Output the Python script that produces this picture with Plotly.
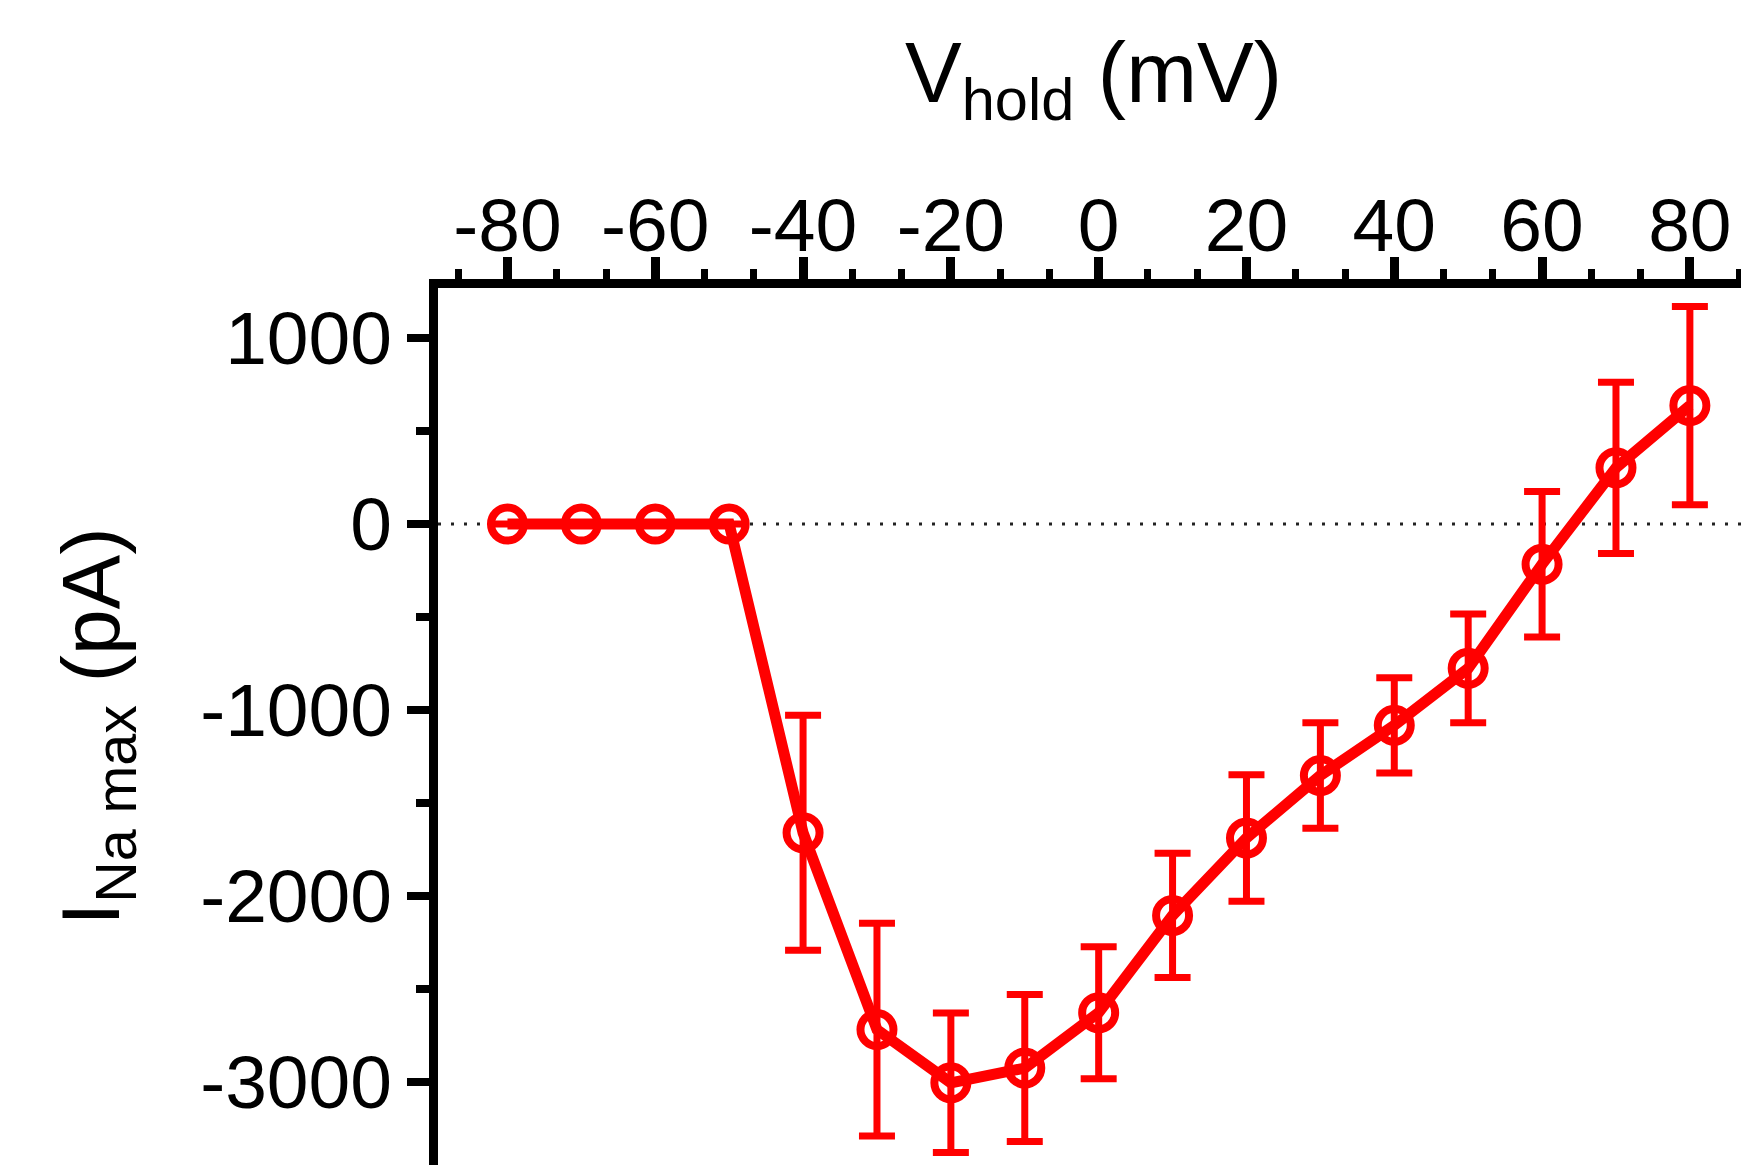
import plotly.graph_objects as go

# ---- data ----
v_hold = [-80, -70, -60, -50, -40, -30, -20, -10, 0, 10, 20, 30, 40, 50, 60, 70, 80]
i_na_max = [0, 0, 0, 0, -1660, -2718, -3004, -2925, -2627, -2104, -1688, -1352, -1082, -776, -216, 302, 637]
i_na_sem = [0, 0, 0, 0, 632, 572, 375, 395, 355, 334, 340, 284, 256, 293, 391, 460, 533]

x_tick_vals = [-80, -60, -40, -20, 0, 20, 40, 60, 80]
x_tick_text = ["-80", "-60", "-40", "-20", "0", "20", "40", "60", "80"]
y_tick_vals = [1000, 0, -1000, -2000, -3000]
y_tick_text = ["1000", "0", "-1000", "-2000", "-3000"]

RED = "#FF0000"
FONT = "Liberation Sans, Arial, sans-serif"

fig = go.Figure()

fig.add_trace(go.Scatter(
    x=v_hold, y=i_na_max,
    mode="lines+markers",
    line=dict(color=RED, width=11),
    marker=dict(symbol="circle-open", size=33, color=RED, line=dict(width=8, color=RED)),
    error_y=dict(type="data", array=i_na_sem, visible=True, color=RED, thickness=7, width=18),
    showlegend=False,
    hoverinfo="skip",
))

# dotted zero reference line
fig.add_shape(type="line", xref="paper", yref="y", x0=0, x1=1, y0=0, y1=0,
              line=dict(color="#222222", width=3, dash="3px,10px"), layer="below")

fig.update_layout(
    width=1749, height=1165,
    margin=dict(l=430, r=8, t=280, b=8, pad=0),
    paper_bgcolor="white", plot_bgcolor="white",
    font=dict(family=FONT, color="black", size=75),
)

fig.update_xaxes(
    side="top",
    range=[-89.4, 88.0],
    showgrid=False, zeroline=False,
    showline=True, linewidth=9, linecolor="black",
    ticks="outside", ticklen=22, tickwidth=9, tickcolor="black",
    tickvals=x_tick_vals, ticktext=x_tick_text,
    tickfont=dict(size=75, family=FONT),
    ticklabelstandoff=-24,
    minor=dict(ticks="outside", dtick=20 / 3, tick0=-80, ticklen=10, tickwidth=7,
               tickcolor="black", showgrid=False),
    title=dict(text="V<sub>hold</sub> (mV)", font=dict(size=85, family=FONT), standoff=56),
)

fig.update_yaxes(
    range=[-3446, 1269],
    showgrid=False, zeroline=False,
    showline=True, linewidth=9, linecolor="black",
    ticks="outside", ticklen=22, tickwidth=8, tickcolor="black",
    tickvals=y_tick_vals, ticktext=y_tick_text,
    tickfont=dict(size=75, family=FONT),
    minor=dict(ticks="outside", dtick=500, tick0=0, ticklen=13, tickwidth=8,
               tickcolor="black", showgrid=False),
    title=dict(text="I<sub>Na max</sub> (pA)", font=dict(size=82, family=FONT), standoff=57),
)

fig.write_html("out.html")
